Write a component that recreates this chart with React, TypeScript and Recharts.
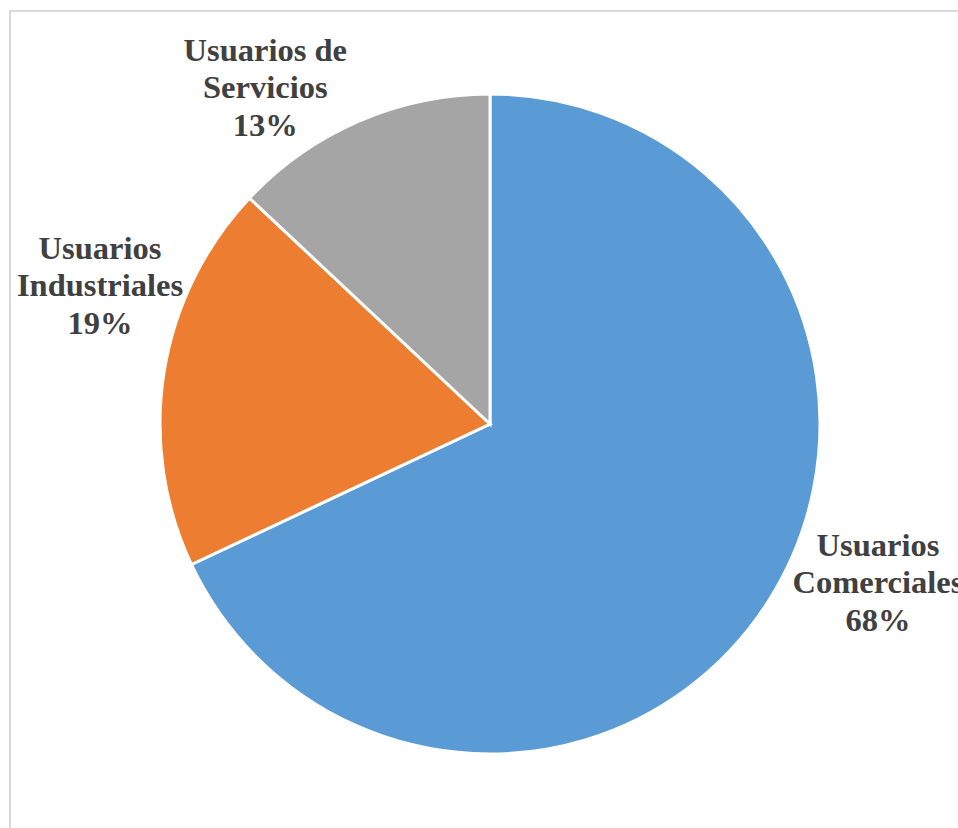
import { Cell, Pie, PieChart } from "recharts"

const categories = ["Usuarios Comerciales", "Usuarios Industriales", "Usuarios de Servicios"]
const shares = [68, 19, 13]
// label text is wrapped the same way the original chart wraps it
const labelLines = [
  ["Usuarios", "Comerciales"],
  ["Usuarios", "Industriales"],
  ["Usuarios de", "Servicios"],
]

const COLORS = [
  "#5b9bd5", // blue
  "#ed7d31", // orange
  "#a5a5a5", // gray
]

// best-fit placement nudges (degrees / radius) per slice
const LABEL_ANGLE_SHIFT = [10.2, -10.6, 10.3]
const LABEL_RADIUS = [419, 414, 405]

const data = categories.map((name, i) => ({ name, value: shares[i] }))

const RADIAN = Math.PI / 180

function renderLabel(props: any) {
  const { cx, cy, midAngle, index, value } = props
  const angle = (midAngle + LABEL_ANGLE_SHIFT[index]) * RADIAN
  const r = LABEL_RADIUS[index]
  const x = cx + r * Math.cos(angle)
  const y = cy - r * Math.sin(angle)
  const lines = [...labelLines[index], `${value}%`]
  const lh = 37.5
  return (
    <text
      x={x}
      y={y}
      textAnchor="middle"
      fill="#404040"
      fontFamily="'Liberation Serif', 'Times New Roman', serif"
      fontWeight="bold"
      fontSize={32.5}
    >
      {lines.map((ln, i) => (
        <tspan key={i} x={x} y={y + (i - 1) * lh + 11}>
          {ln}
        </tspan>
      ))}
    </text>
  )
}

export default function App() {
  return (
    <div
      style={{
        position: "fixed",
        left: 0,
        top: 0,
        width: 958,
        height: 828,
        overflow: "hidden",
        background: "#ffffff",
      }}
    >
      <div
        style={{
          position: "absolute",
          left: 9,
          top: 10,
          width: 1000,
          height: 900,
          border: "2px solid #d9d9d9",
          boxSizing: "border-box",
        }}
      />
      <div style={{ position: "absolute", left: 0, top: 0 }}>
        <PieChart width={958} height={828} margin={{ top: 0, right: 0, bottom: 0, left: 0 }}>
          <Pie
            data={data}
            dataKey="value"
            nameKey="name"
            cx={490}
            cy={424}
            outerRadius={330}
            startAngle={90}
            endAngle={-270}
            stroke="#ffffff"
            strokeWidth={3}
            labelLine={false}
            label={renderLabel}
            isAnimationActive={false}
          >
            {data.map((entry, index) => (
              <Cell key={`cell-${index}`} fill={COLORS[index % COLORS.length]} />
            ))}
          </Pie>
        </PieChart>
      </div>
    </div>
  )
}
